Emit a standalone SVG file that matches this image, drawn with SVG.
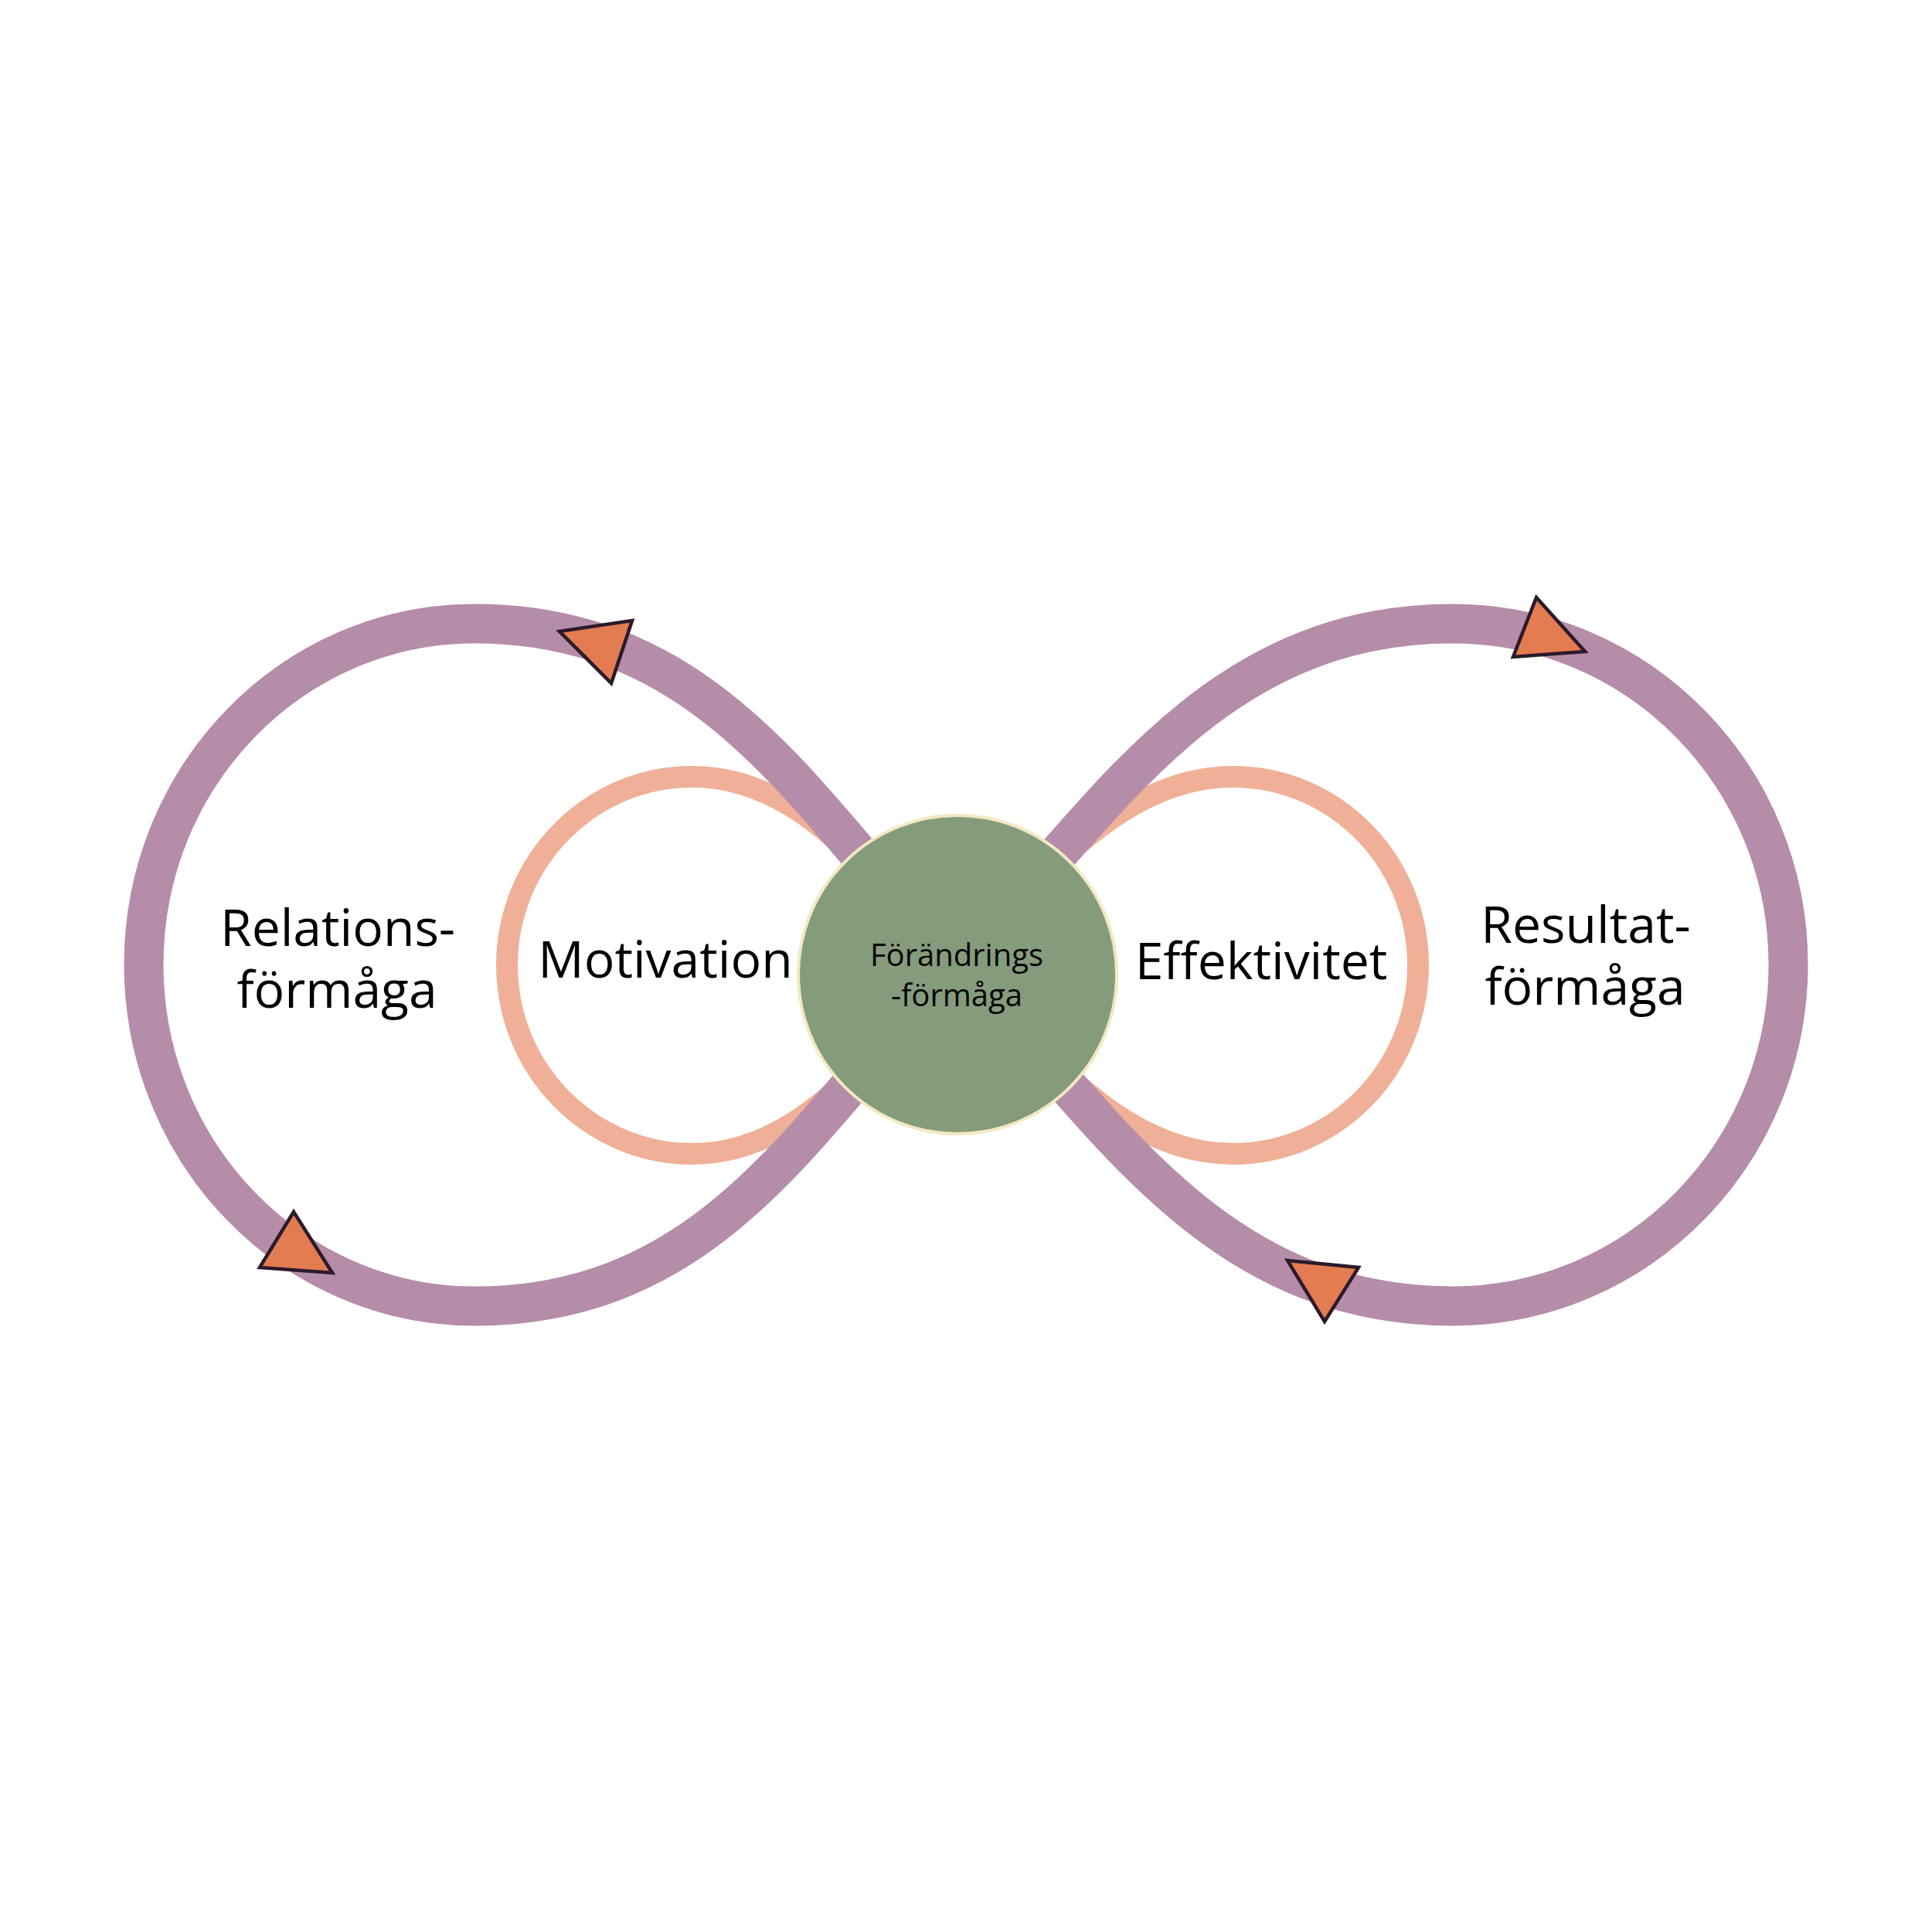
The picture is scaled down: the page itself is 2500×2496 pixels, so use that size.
<svg xmlns="http://www.w3.org/2000/svg" width="2500" height="2496" viewBox="0 0 2500 2496">
  <style>
    .purple { fill: none; stroke: #B58DA8; stroke-width: 51; }
    .salmon { fill: none; stroke: #EFB097; stroke-width: 28; }
    .arrow { fill: #E47C52; stroke: #2B1A2B; stroke-width: 4.5; stroke-linejoin: miter; }
    .lbl { font-family: "Open Sans", "Noto Sans", sans-serif; fill: #000; text-anchor: middle; }
    .big { font-size: 66px; }
    .small { font-size: 40px; }
  </style>
  <rect width="2500" height="2496" fill="#FFFFFF"/>
  <g id="connectors">
    <path id="inner-loop" class="salmon" d="M1239,1248 C1129,1138 1040,1005 896,1005 C763.4,1005 656,1114.2 656,1249 C656,1383.8 763.4,1493 896,1493 C1040,1493 1129,1358 1239,1248 C1349,1138 1450,1005 1595,1005 C1727.6,1005 1835,1114.2 1835,1249 C1835,1383.8 1727.6,1493 1595,1493 C1450,1493 1349,1358 1239,1248 Z"/>
    <path id="outer-loop" class="purple" d="M1239,1248 C1055,1064 934,807 614,807 C377.6,807 186,1004.4 186,1248 C186,1491.6 377.6,1690 614,1690 C934,1690 1055,1432 1239,1248 C1423,1064 1560,807 1880,807 C2119.7,807 2314,1004.4 2314,1248 C2314,1491.6 2119.7,1690 1880,1690 C1560,1690 1423,1432 1239,1248 Z"/>
    <polygon class="arrow" points="724,817 818,803 791,884"/>
    <polygon class="arrow" points="380,1568 336,1640 430,1647"/>
    <polygon class="arrow" points="1988,773 1958,850 2051,843"/>
    <polygon class="arrow" points="1666,1631 1758,1640 1714,1710"/>
  </g>
  <g id="node-relation">
    <text class="lbl big" x="437" y="1224">Relations-</text>
    <text class="lbl big" x="436" y="1304">förmåga</text>
  </g>
  <g id="node-motivation">
    <text class="lbl big" x="861" y="1265">Motivation</text>
  </g>
  <g id="node-effektivitet">
    <text class="lbl big" x="1632" y="1267">Effektivitet</text>
  </g>
  <g id="node-resultat">
    <text class="lbl big" x="2052" y="1220">Resultat-</text>
    <text class="lbl big" x="2051" y="1300">förmåga</text>
  </g>
  <g id="node-forandring">
    <circle cx="1239" cy="1261" r="206" fill="#859C7C" stroke="#F3E8C2" stroke-width="4"/>
    <text class="lbl small" x="1238" y="1250">Förändrings</text>
    <text class="lbl small" x="1238" y="1302">-förmåga</text>
  </g>
</svg>
